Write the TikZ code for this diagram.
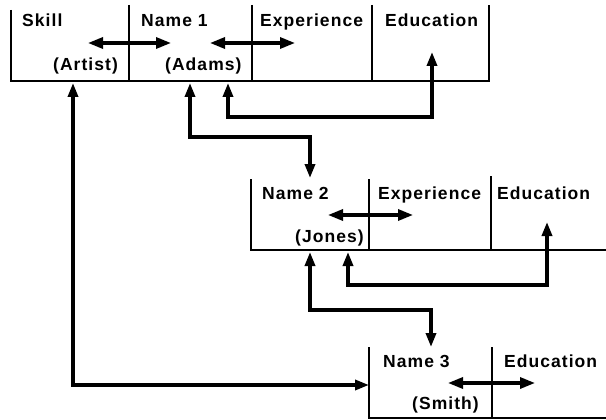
\documentclass[tikz,border=0pt]{standalone}
\usepackage{fontspec}
\newfontfamily\lblfont{Liberation Sans}[LetterSpace=6]
\usetikzlibrary{arrows.meta}
\tikzset{
  tablerule/.style={line width=2.2pt, line cap=butt},
  link/.style={line width=3.4pt, {Triangle[length=14pt,width=10pt]}-{Triangle[length=14pt,width=10pt]}},
  swaparrow/.style={line width=3.2pt, {Triangle[length=15pt,width=11pt]}-{Triangle[length=15pt,width=11pt]}},
  lbl/.style={font=\lblfont\bfseries\fontsize{17.5}{19}\selectfont, inner sep=0pt, anchor=base west}
}
\begin{document}
\begin{tikzpicture}[x=1pt,y=-1pt]
\useasboundingbox (0,0) rectangle (606,420);

% ---- record 1: Skill / Name 1 / Experience / Education
\draw[tablerule] (11,10) -- (11,81) -- (489,81) -- (489,5);
\draw[tablerule] (129,5) -- (129,81);
\draw[tablerule] (252,5) -- (252,81);
\draw[tablerule] (372,5) -- (372,81);
\node[lbl] (skill)  at (22,27)  {Skill};
\node[lbl] (name1)  at (141,27) {Name 1};
\node[lbl] (exp1)   at (260,27) {Experience};
\node[lbl] (edu1)   at (385,27) {Education};
\node[lbl] (artist) at (53,71)  {(Artist)};
\node[lbl] (adams)  at (165,71) {(Adams)};

% ---- record 2: Name 2 / Experience / Education
\draw[tablerule] (251,179) -- (251,250) -- (606,250);
\draw[tablerule] (369,179) -- (369,250);
\draw[tablerule] (491,176) -- (491,250);
\node[lbl] (name2) at (262,200) {Name 2};
\node[lbl] (exp2)  at (378,200) {Experience};
\node[lbl] (edu2)  at (497,200) {Education};
\node[lbl] (jones) at (295,242) {(Jones)};

% ---- record 3: Name 3 / Education
\draw[tablerule] (369,347) -- (369,418) -- (606,418);
\draw[tablerule] (492,347) -- (492,418);
\node[lbl] (name3) at (383,367) {Name 3};
\node[lbl] (edu3)  at (504,367) {Education};
\node[lbl] (smith) at (412,409) {(Smith)};

% ---- attachment points
\coordinate (sw1a) at (88,43);   \coordinate (sw1b) at (171,43);
\coordinate (sw2a) at (210,43);  \coordinate (sw2b) at (295,43);
\coordinate (sw3a) at (328,215); \coordinate (sw3b) at (413,215);
\coordinate (sw4a) at (448,383); \coordinate (sw4b) at (535,383);

\coordinate (artistOut) at (73,83);
\coordinate (adamsOutA) at (190,83);
\coordinate (adamsOutB) at (228,83);
\coordinate (edu1In)    at (432,52);
\coordinate (name2In)   at (310,178);
\coordinate (jonesOutA) at (310,252);
\coordinate (jonesOutB) at (348,252);
\coordinate (edu2In)    at (547,222);
\coordinate (name3Top)  at (431,347);
\coordinate (name3Left) at (369,385);

% ---- field-to-field swaps
\draw[swaparrow] (sw1a) -- (sw1b);
\draw[swaparrow] (sw2a) -- (sw2b);
\draw[swaparrow] (sw3a) -- (sw3b);
\draw[swaparrow] (sw4a) -- (sw4b);

% ---- record links
\draw[link] (artistOut) |- (name3Left);
\draw[link] (adamsOutA) -- (190,137) -| (name2In);
\draw[link] (adamsOutB) -- (228,117) -| (edu1In);
\draw[link] (jonesOutA) -- (310,310) -| (name3Top);
\draw[link] (jonesOutB) -- (348,285) -| (edu2In);
\end{tikzpicture}
\end{document}
